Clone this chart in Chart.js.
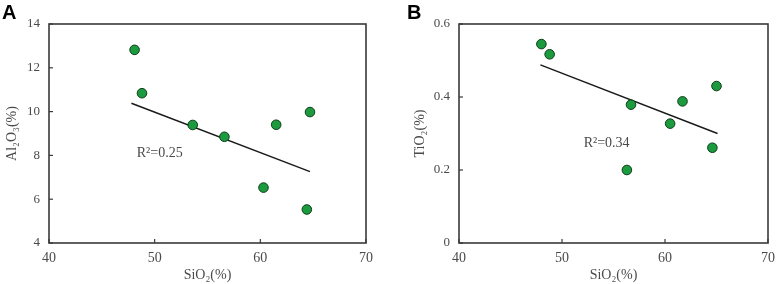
<!DOCTYPE html>
<html>
<head>
<meta charset="utf-8">
<script src="https://cdn.jsdelivr.net/npm/chart.js@4.4.0/dist/chart.umd.min.js"></script>
<style>
  html, body { margin: 0; padding: 0; background: #ffffff; }
  .panel { position: absolute; top: 0; width: 391px; height: 284px; }
  #panelA { left: 0; }
  #panelB { left: 391px; }
</style>
</head>
<body>
<div class="panel" id="panelA"><canvas id="chartA" width="391" height="284"></canvas></div>
<div class="panel" id="panelB"><canvas id="chartB" width="391" height="284"></canvas></div>
<script>
// Panel A: Al2O3 vs SiO2
const sio2A = [48.1, 48.8, 53.6, 56.6, 61.5, 64.7, 60.3, 64.4];
const al2o3A = [12.82, 10.84, 9.39, 8.85, 9.40, 9.98, 6.53, 5.53];
const trendAX = [47.8, 64.7];
const trendAY = [10.38, 7.26];
const r2LabelA = { text: 'R\u00B2=0.25', x: 48.3, y: 8.1 };

// Panel B: TiO2 vs SiO2
const sio2B = [48.0, 48.8, 56.7, 56.3, 60.5, 61.7, 65.0, 64.6];
const tio2B = [0.545, 0.517, 0.379, 0.200, 0.327, 0.388, 0.430, 0.261];
const trendBX = [47.9, 65.1];
const trendBY = [0.488, 0.300];
const r2LabelB = { text: 'R\u00B2=0.34', x: 52.1, y: 0.274 };

const xTicks = [40, 50, 60, 70];
const yTicksA = [4, 6, 8, 10, 12, 14];
const yTicksB = [0, 0.2, 0.4, 0.6];

const serif = "'Liberation Serif', 'Times New Roman', serif";
const textGray = '#4a4a4a';
const frameColor = '#3a3a3a';

// draws the plot frame, inward tick marks, R² note and panel letter
const framePlugin = {
    id: 'frame',
    afterDatasetsDraw(chart, args, opts) {
        const { ctx, chartArea: a, scales } = chart;
        ctx.save();
        ctx.strokeStyle = frameColor;
        ctx.lineWidth = 1.6;
        ctx.strokeRect(a.left, a.top, a.right - a.left, a.bottom - a.top);

        ctx.lineWidth = 1.2;
        scales.x.ticks.forEach(t => {
            const px = scales.x.getPixelForValue(t.value);
            ctx.beginPath();
            ctx.moveTo(px, a.bottom);
            ctx.lineTo(px, a.bottom - 4);
            ctx.stroke();
        });
        scales.y.ticks.forEach(t => {
            const py = scales.y.getPixelForValue(t.value);
            ctx.beginPath();
            ctx.moveTo(a.left, py);
            ctx.lineTo(a.left + 4, py);
            ctx.stroke();
        });

        // R² note
        const note = opts.note;
        ctx.fillStyle = textGray;
        ctx.font = '14px ' + serif;
        ctx.textAlign = 'left';
        ctx.textBaseline = 'middle';
        ctx.fillText(note.text, scales.x.getPixelForValue(note.x), scales.y.getPixelForValue(note.y));

        // panel letter
        ctx.fillStyle = '#000000';
        ctx.font = "bold 20px 'Liberation Sans', Arial, sans-serif";
        ctx.textBaseline = 'top';
        ctx.fillText(opts.letter, opts.letterX, 3);
        ctx.restore();
    }
};

function makeChart(canvasId, cfg) {
    const canvas = document.getElementById(canvasId);
    return new Chart(canvas, {
        type: 'scatter',
        data: {
            datasets: [
                {
                    data: cfg.xs.map((x, i) => ({ x, y: cfg.ys[i] })),
                    backgroundColor: '#1c9a3e',
                    borderColor: '#0d3d1a',
                    borderWidth: 1,
                    pointRadius: 4.8,
                    pointHoverRadius: 4.8,
                    order: 1
                },
                {
                    data: cfg.tx.map((x, i) => ({ x, y: cfg.ty[i] })),
                    showLine: true,
                    borderColor: '#1a1a1a',
                    borderWidth: 1.5,
                    pointRadius: 0,
                    order: 2
                }
            ]
        },
        options: {
            responsive: false,
            animation: false,
            devicePixelRatio: 1,
            layout: { padding: { top: 24, right: cfg.padRight, left: 0, bottom: 0 } },
            plugins: {
                legend: { display: false },
                tooltip: { enabled: false },
                frame: { note: cfg.note, letter: cfg.letter, letterX: cfg.letterX }
            },
            scales: {
                x: {
                    type: 'linear',
                    min: 40,
                    max: 70,
                    afterBuildTicks: s => { s.ticks = xTicks.map(v => ({ value: v })); },
                    grid: { display: false, drawTicks: false },
                    border: { display: false },
                    ticks: { color: textGray, font: { family: serif, size: 14 }, padding: 7 },
                    title: {
                        display: true,
                        text: 'SiO\u2082(%)',
                        color: textGray,
                        font: { family: serif, size: 14 },
                        padding: { top: 0, bottom: 0 }
                    },
                    afterFit: s => { s.height = 41; }
                },
                y: {
                    type: 'linear',
                    min: cfg.yMin,
                    max: cfg.yMax,
                    afterBuildTicks: s => { s.ticks = cfg.yTicks.map(v => ({ value: v })); },
                    grid: { display: false, drawTicks: false },
                    border: { display: false },
                    ticks: {
                        color: textGray,
                        font: { family: serif, size: 13 },
                        padding: 9,
                        callback: v => cfg.yFmt(v)
                    },
                    title: {
                        display: true,
                        text: cfg.yTitle,
                        color: textGray,
                        font: { family: serif, size: 14 },
                        padding: { top: cfg.yTitlePad, bottom: 0 }
                    },
                    afterFit: s => { s.width = cfg.yWidth; }
                }
            }
        },
        plugins: [framePlugin]
    });
}

makeChart('chartA', {
    xs: sio2A, ys: al2o3A, tx: trendAX, ty: trendAY,
    yMin: 4, yMax: 14, yTicks: yTicksA, yFmt: v => String(v),
    yTitle: 'Al\u2082O\u2083(%)', yTitlePad: 4, yWidth: 49, padRight: 25,
    note: r2LabelA, letter: 'A', letterX: 2
});

makeChart('chartB', {
    xs: sio2B, ys: tio2B, tx: trendBX, ty: trendBY,
    yMin: 0, yMax: 0.6, yTicks: yTicksB, yFmt: v => (v === 0 ? '0' : v.toFixed(1)),
    yTitle: 'TiO\u2082(%)', yTitlePad: 21, yWidth: 68, padRight: 9,
    note: r2LabelB, letter: 'B', letterX: 16
});
</script>
</body>
</html>
